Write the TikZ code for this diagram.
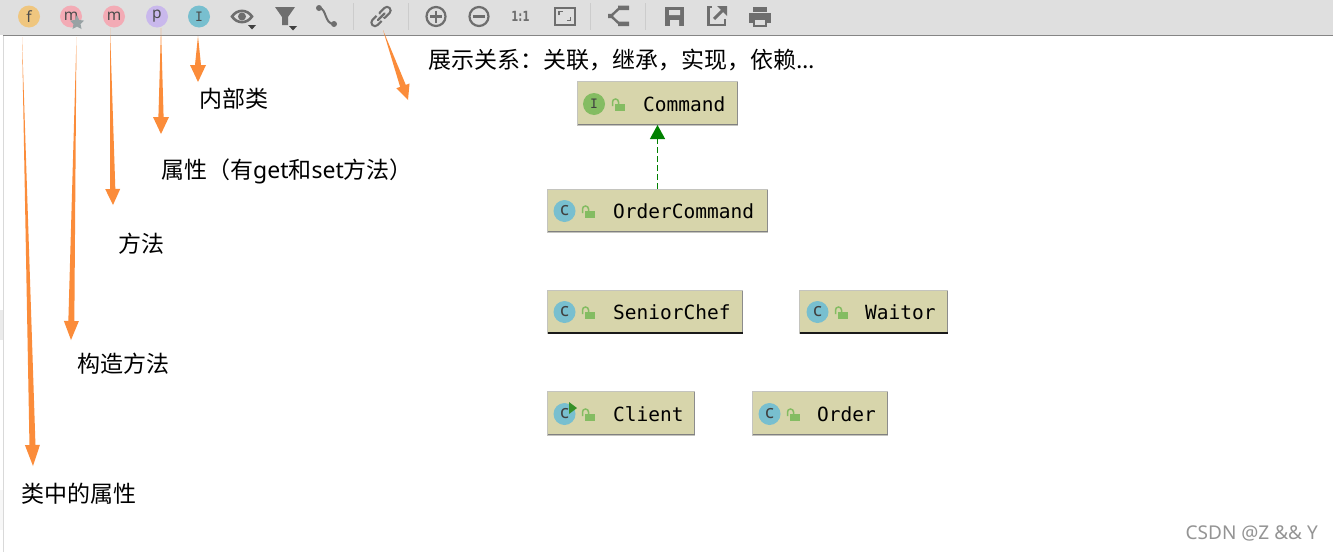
\documentclass[tikz,border=0pt]{standalone}
\usepackage{fontspec}
\setmainfont{Noto Sans CJK SC}
\setsansfont{Noto Sans}
\setmonofont{DejaVu Sans Mono}
\newfontfamily\dvsfont{DejaVu Sans}
\usetikzlibrary{calc,arrows.meta}
\definecolor{orangeA}{HTML}{FB8C3A}
\definecolor{boxfill}{HTML}{D7D5AB}
\definecolor{tool}{HTML}{6E6E6E}
\definecolor{lockg}{HTML}{84BC62}
\definecolor{cblue}{HTML}{78BFCF}
\definecolor{barbg}{HTML}{DFDFDF}
\definecolor{boxedge}{HTML}{C4C4BE}
\definecolor{reald}{HTML}{008000}
\tikzset{x=1pt,y=-1pt,
  umlbox/.style={draw=boxedge,line width=1pt,fill=boxfill,inner sep=0pt,anchor=north west,outer sep=0pt},
  cicon/.style={circle,fill=cblue,minimum size=22pt,inner sep=0pt,text=black!75,font=\sffamily\fontsize{18.5}{18.5}\selectfont},
  ticon/.style={circle,minimum size=22pt,inner sep=0pt,text=black!70,font=\sffamily\fontsize{15.5}{15.5}\selectfont},
  cnlabel/.style={anchor=west,inner sep=0pt,text=black,font=\fontsize{23}{25}\selectfont},
  boxlabel/.style={anchor=west,inner sep=0pt,text=black,font=\ttfamily\fontsize{19.5}{20}\selectfont},
  toolg/.style={draw=tool,line width=2.2pt,fill=none},
  sepline/.style={draw=black!20,line width=1pt},
}
% wedge arrow: name start, name tip, half shaft width, head length, half head width
\newcommand{\wedgearrow}[5]{%
  \fill[orangeA] (#1)
    -- ($($(#2)!#4pt!(#1)$)!#3pt!90:(#2)$)
    -- ($($(#2)!#4pt!(#1)$)!#5pt!90:(#2)$)
    -- (#2)
    -- ($($(#2)!#4pt!(#1)$)!#5pt!-90:(#2)$)
    -- ($($(#2)!#4pt!(#1)$)!#3pt!-90:(#2)$)
    -- cycle;}
\newcommand{\lockicon}[2]{%
  \fill[lockg] (#1+2.5,#2-1.5) rectangle (#1+12.5,#2+6);
  \draw[lockg,line width=1.5pt] (#1+.5,#2+1) -- (#1+.5,#2-3) arc[start angle=180,end angle=360,radius=3] -- (#1+6.5,#2-1);}
\newcommand{\umlnode}[9]{%
  \node[umlbox,minimum width={(#4-#2-1)*1pt},minimum height={(#5-#3-1)*1pt}] (#1) at (#2,#3) {};
  \draw[draw=black!45,line width=1pt] (#4-1,#3+1) -- (#4-1,#5-1);
  \draw[#6,line width=#9pt] (#2+.5,#5-1.5) -- (#4-.5,#5-1.5);
  \node[boxlabel] (#1t) at (#7,{(#3+#5)/2+.5}) {#8};
}
\begin{document}
\begin{tikzpicture}
\useasboundingbox (0,0) rectangle (1333,552);
\fill[white] (0,0) rectangle (1333,552);
% toolbar
\fill[barbg] (0,0) rectangle (1333,35);
\draw[black!48,line width=1pt] (3,35.5) -- (1333,35.5);
\draw[black!15,line width=1pt] (3.5,36) -- (3.5,552);
\fill[black!8] (0,310) rectangle (3,340);
\fill[black!3] (0,490) rectangle (3,530);
% toolbar round icons
\node[ticon,fill={rgb,255:red,239;green,198;blue,127}] (if) at (29,16.5) {f};
\node[ticon,fill={rgb,255:red,243;green,171;blue,181}] (imc) at (71,16.5) {m};
\node[ticon,fill={rgb,255:red,243;green,171;blue,181}] (im) at (114,16.5) {m};
\node[ticon,fill={rgb,255:red,201;green,184;blue,236}] (ip) at (157,16.5) {p};
\node[ticon,fill=cblue,font=\ttfamily\fontsize{13}{13}\selectfont] (ii) at (199,16.5) {I};
\fill[black!25!cblue!25!gray!75] (77,15) -- (79.2,20) -- (84,20.6) -- (80.5,24) -- (81.5,29) -- (77,26.6) -- (72.5,29) -- (73.5,24) -- (70,20.6) -- (74.8,20) -- cycle;
% eye
\draw[tool,line width=2.6pt] (232,16.5) .. controls (237,9) and (247,9) .. (252,16.5) .. controls (247,24) and (237,24) .. (232,16.5) -- cycle;
\fill[tool] (242,16.5) circle[radius=4];
\fill[black!75] (248,25) -- (256,25) -- (252,29.5) -- cycle;
% filter
\fill[tool] (275,7) -- (295,7) -- (288,17) -- (288,25) -- (282,25) -- (282,17) -- cycle;
\fill[black!75] (289,26) -- (297,26) -- (293,30.5) -- cycle;
% route
\fill[tool] (319,8) circle[radius=3] (334,24) circle[radius=3];
\draw[tool,line width=2pt] (319,8) .. controls (327,8) and (324,24) .. (334,24);
\draw[sepline] (353.5,3) -- (353.5,30);
% link
\draw[tool,line width=9.5pt,line cap=round] (375,22.5) -- (379.5,18);
\draw[barbg,line width=4.8pt,line cap=round] (375,22.5) -- (379.5,18);
\draw[tool,line width=9.5pt,line cap=round] (382.5,15) -- (387,10.5);
\draw[barbg,line width=4.8pt,line cap=round] (382.5,15) -- (387,10.5);
\draw[barbg,line width=3pt] (376,13) -- (386,23);
\draw[tool,line width=2.4pt,line cap=round] (378,20) -- (384.5,13.5);
\draw[sepline] (408.5,3) -- (408.5,30);
% plus / minus
\draw[toolg] (436,16.5) circle[radius=9.5];
\draw[tool,line width=2.2pt] (430,16.5) -- (442,16.5) (436,10.5) -- (436,22.5);
\draw[toolg] (479,16.5) circle[radius=9.5];
\draw[tool,line width=2.2pt] (473,16.5) -- (485,16.5);
\node[inner sep=0pt,text=tool,font=\dvsfont\bfseries\fontsize{14}{14}\selectfont] (one) at (520.5,16.5) {\scalebox{.72}[1]{1:1}};
\draw[tool,line width=2pt] (554.5,7.5) rectangle (575,24.5);
\draw[tool,line width=1.3pt] (559,15) -- (559,11.5) -- (563,11.5) (570.5,17) -- (570.5,20.5) -- (566.5,20.5);
\draw[sepline] (590.5,3) -- (590.5,30);
% hierarchy
\fill[tool] (618,5.7) rectangle (629,10) (618,21.7) rectangle (629,26) (608,13.8) rectangle (613,18);
\draw[tool,line width=2.4pt] (611,16) -- (619,8.5) (611,16) -- (619,23.5);
\draw[sepline] (645.5,3) -- (645.5,30);
% save
\fill[tool] (665,7) rectangle (684,26);
\fill[barbg] (669,10) rectangle (680,15) (670,20) rectangle (679,26);
% export
\draw[tool,line width=2.6pt] (716,7) -- (708.5,7) -- (708.5,25) -- (725,25) -- (725,17);
\fill[barbg] (712,5) rectangle (727,19);
\draw[tool,line width=3pt] (714,19) -- (724,9);
\fill[tool] (717,6) -- (727,6) -- (727,16) -- cycle;
% print
\fill[tool] (749,13) rectangle (771,23);
\fill[tool] (753,7) rectangle (767,11.5);
\draw[tool,line width=1.8pt,fill=barbg] (754,19) rectangle (766,26);
% arrows
\coordinate (fs) at (22,37); \coordinate (ft) at (33,466);
\coordinate (ms) at (76.5,37); \coordinate (mt) at (71,340);
\coordinate (ns) at (110,28); \coordinate (nt) at (113,205);
\coordinate (ps) at (161,28); \coordinate (pt) at (161,134);
\coordinate (is) at (198,36); \coordinate (it) at (198,82);
\coordinate (ls) at (383,30); \coordinate (lt) at (408,100);
\wedgearrow{fs}{ft}{3}{21}{7.5}
\wedgearrow{ms}{mt}{3}{19}{7.5}
\wedgearrow{ns}{nt}{2.6}{16}{7.5}
\wedgearrow{ps}{pt}{2.6}{17}{8}
\wedgearrow{is}{it}{3}{17}{8}
\wedgearrow{ls}{lt}{3}{15}{7}
% annotations
\node[cnlabel] (t1) at (199,99) {内部类};
\node[cnlabel] (t2) at (161,171) {属性（有{\sffamily get}和{\sffamily set}方法）};
\node[cnlabel] (t3) at (118,244) {方法};
\node[cnlabel] (t4) at (77,364) {构造方法};
\node[cnlabel] (t5) at (21,494) {类中的属性};
\node[cnlabel] (t6) at (428,60) {展示关系：关联，继承，实现，依赖...};
% boxes
\umlnode{cmd}{577}{81}{738}{126}{draw=black!50}{643}{Command}{1.5}
\umlnode{ordcmd}{547}{189}{768}{233}{draw=black!50}{613}{OrderCommand}{1.5}
\umlnode{chef}{547}{290}{743}{334}{draw=black!90}{613}{SeniorChef}{2}
\umlnode{wait}{799}{290}{948}{334}{draw=black!90}{865}{Waitor}{2}
\umlnode{client}{547}{391}{695}{436}{draw=black!50}{613}{Client}{1.5}
\umlnode{order}{752}{391}{888}{436}{draw=black!50}{817}{Order}{1.5}
% class icons
\node[cicon,fill=lockg,font=\ttfamily\fontsize{13}{13}\selectfont] (c0) at (594,104) {I};
\node[cicon] (c1) at (564.5,211) {c};
\node[cicon] (c2) at (564.5,312) {c};
\node[cicon] (c3) at (817.5,312) {c};
\node[cicon] (c4) at (564.5,414) {c};
\node[cicon] (c5) at (769.5,414) {c};
\fill[green!45!black!60!lockg] (569,402) -- (577,408) -- (569,414) -- cycle;
\lockicon{612}{105}
\lockicon{582}{212}
\lockicon{582}{313}
\lockicon{835}{313}
\lockicon{582}{415}
\lockicon{787}{415}
% realization
\draw[draw=reald,line width=1.3pt,dash pattern=on 6pt off 3pt,-{Triangle[length=14pt,width=15pt,fill=reald]}] (ordcmd.north -| 657.5,0) -- (cmd.south -| 657.5,0);
% watermark
\node[anchor=east,inner sep=0pt,text=black!42,font=\sffamily\fontsize{19}{19}\selectfont] (wm) at (1318,533.5) {CSDN @Z \&\& Y};
\end{tikzpicture}
\end{document}
